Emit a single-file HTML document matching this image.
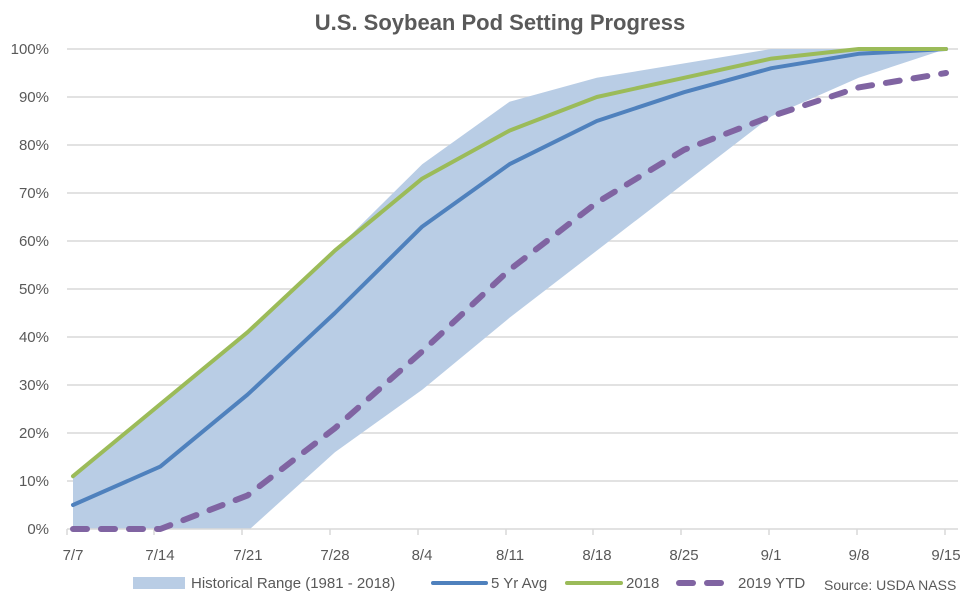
<!DOCTYPE html>
<html><head><meta charset="utf-8"><style>
html,body{margin:0;padding:0;background:#fff;}
svg{display:block;font-family:"Liberation Sans",sans-serif;}
</style></head><body>
<svg width="975" height="601" viewBox="0 0 975 601" xmlns="http://www.w3.org/2000/svg">
<text x="500" y="30" text-anchor="middle" font-size="22" font-weight="bold" fill="#595959">U.S. Soybean Pod Setting Progress</text>
<g stroke="#d9d9d9" stroke-width="1.5">
<line x1="67" x2="958" y1="49" y2="49"/><line x1="67" x2="958" y1="97" y2="97"/>
<line x1="67" x2="958" y1="145" y2="145"/><line x1="67" x2="958" y1="193" y2="193"/>
<line x1="67" x2="958" y1="241" y2="241"/><line x1="67" x2="958" y1="289" y2="289"/>
<line x1="67" x2="958" y1="337" y2="337"/><line x1="67" x2="958" y1="385" y2="385"/>
<line x1="67" x2="958" y1="433" y2="433"/><line x1="67" x2="958" y1="481" y2="481"/>
</g>
<g font-size="15" fill="#595959" text-anchor="end">
<text x="49" y="54">100%</text><text x="49" y="102">90%</text><text x="49" y="150">80%</text>
<text x="49" y="198">70%</text><text x="49" y="246">60%</text><text x="49" y="294">50%</text>
<text x="49" y="342">40%</text><text x="49" y="390">30%</text><text x="49" y="438">20%</text>
<text x="49" y="486">10%</text><text x="49" y="534">0%</text>
</g>
<polygon fill="#b9cde5" points="73,476.2 160.3,404.2 247.6,332.2 334.9,250.6 422.2,164.2 509.5,101.8 596.8,77.8 684.1,63.4 771.4,49 858.7,49 946,49 946,49 858.7,77.8 771.4,116.2 684.1,183.4 596.8,250.6 509.5,317.8 422.2,389.8 334.9,452.2 250,529 73,529"/>
<line x1="67" x2="958" y1="529" y2="529" stroke="#d9d9d9" stroke-width="1.5"/>
<g stroke="#d9d9d9" stroke-width="1.5">
<line x1="67" x2="67" y1="529" y2="535"/><line x1="154" x2="154" y1="529" y2="535"/>
<line x1="242" x2="242" y1="529" y2="535"/><line x1="330" x2="330" y1="529" y2="535"/>
<line x1="418" x2="418" y1="529" y2="535"/><line x1="506" x2="506" y1="529" y2="535"/>
<line x1="593" x2="593" y1="529" y2="535"/><line x1="681" x2="681" y1="529" y2="535"/>
<line x1="769" x2="769" y1="529" y2="535"/><line x1="857" x2="857" y1="529" y2="535"/>
<line x1="945" x2="945" y1="529" y2="535"/>
</g>
<g font-size="15" fill="#595959" text-anchor="middle">
<text x="73" y="560">7/7</text><text x="160" y="560">7/14</text><text x="248" y="560">7/21</text>
<text x="335" y="560">7/28</text><text x="422" y="560">8/4</text><text x="510" y="560">8/11</text>
<text x="597" y="560">8/18</text><text x="684" y="560">8/25</text><text x="771" y="560">9/1</text>
<text x="859" y="560">9/8</text><text x="946" y="560">9/15</text>
</g>
<polyline fill="none" stroke="#4f81bd" stroke-width="4" stroke-linejoin="round" stroke-linecap="round" points="73,505 160.3,466.6 247.6,394.6 334.9,313 422.2,226.6 509.5,164.2 596.8,121 684.1,92.2 771.4,68.2 858.7,53.8 946,49"/>
<polyline fill="none" stroke="#9bbb59" stroke-width="4" stroke-linejoin="round" stroke-linecap="round" points="73,476.2 160.3,404.2 247.6,332.2 334.9,250.6 422.2,178.6 509.5,130.6 596.8,97 684.1,77.8 771.4,58.6 858.7,49 946,49"/>
<polyline fill="none" stroke="#8064a2" stroke-width="6" stroke-dasharray="14,14" stroke-linecap="round" stroke-linejoin="round" points="73,529 160.3,529 247.6,495.4 334.9,428.2 422.2,351.4 509.5,269.8 596.8,202.6 684.1,149.8 771.4,116.2 858.7,87.4 946,73"/>
<rect x="133" y="577" width="52" height="12" fill="#b9cde5"/>
<text x="191" y="588" font-size="15" fill="#595959">Historical Range (1981 - 2018)</text>
<line x1="433" x2="486" y1="583" y2="583" stroke="#4f81bd" stroke-width="4" stroke-linecap="round"/>
<text x="491" y="588" font-size="15" fill="#595959">5 Yr Avg</text>
<line x1="567" x2="621" y1="583" y2="583" stroke="#9bbb59" stroke-width="4" stroke-linecap="round"/>
<text x="626" y="588" font-size="15" fill="#595959">2018</text>
<line x1="679" x2="693" y1="583" y2="583" stroke="#8064a2" stroke-width="6" stroke-linecap="round"/>
<line x1="707" x2="721" y1="583" y2="583" stroke="#8064a2" stroke-width="6" stroke-linecap="round"/>
<text x="738" y="588" font-size="15" fill="#595959">2019 YTD</text>
<text x="824" y="590" font-size="14" fill="#595959">Source: USDA NASS</text>
</svg>
</body></html>
